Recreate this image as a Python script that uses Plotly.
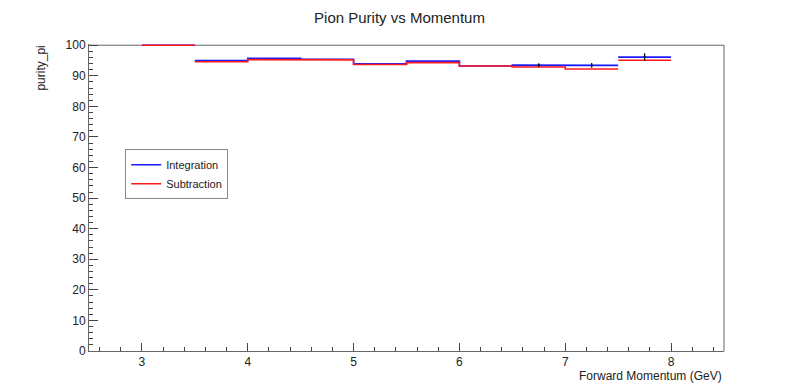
import plotly.graph_objects as go

bin_lo = [3.0, 3.5, 4.0, 4.5, 5.0, 5.5, 6.0, 6.5, 7.0, 7.5]
bin_hi = [3.5, 4.0, 4.5, 5.0, 5.5, 6.0, 6.5, 7.0, 7.5, 8.0]
integration = [100.0, 95.0, 95.7, 95.4, 93.9, 94.8, 93.2, 93.5, 93.4, 96.1]
subtraction = [100.0, 94.6, 95.3, 95.2, 93.7, 94.3, 93.2, 92.9, 92.2, 95.1]
integration_err = [0, 0, 0, 0, 0, 0, 0, 0.6, 0.8, 1.3]
gap_before = [False, True, False, False, False, False, False, False, False, True]

y_ticks = list(range(0, 101, 10))
x_ticks = [3, 4, 5, 6, 7, 8]
x_range = [2.5, 8.5]
y_range = [0, 100.4]
y_frame_top = 100


def step_xy(vals):
    xs, ys = [], []
    for lo, hi, v, g in zip(bin_lo, bin_hi, vals, gap_before):
        if g and xs:
            xs.append(None)
            ys.append(None)
        xs += [lo, hi]
        ys += [v, v]
    return xs, ys


fig = go.Figure()
xi, yi = step_xy(integration)
xs_, ys_ = step_xy(subtraction)
fig.add_trace(go.Scatter(x=xi, y=yi, mode="lines", name="Integration",
                         line=dict(color="#1a1aff", width=1.6)))
fig.add_trace(go.Scatter(x=xs_, y=ys_, mode="lines", name="Subtraction",
                         line=dict(color="#ff1a1a", width=1.6)))

centers = [(lo + hi) / 2 for lo, hi, e in zip(bin_lo, bin_hi, integration_err) if e > 0]
cvals = [v for v, e in zip(integration, integration_err) if e > 0]
cerrs = [e for e in integration_err if e > 0]
fig.add_trace(go.Scatter(x=centers, y=cvals, mode="markers", showlegend=False,
                         marker=dict(size=2, color="black"),
                         error_y=dict(type="data", array=cerrs, color="black",
                                      thickness=1.2, width=0)))

fig.update_layout(
    width=783, height=378,
    paper_bgcolor="white", plot_bgcolor="white",
    margin=dict(l=81, r=67, t=36, b=35, autoexpand=False),
    font=dict(family="Liberation Sans, Arial, sans-serif", size=12, color="#222"),
    title=dict(text="Pion Purity vs Momentum", x=0.5, xanchor="center",
               yref="container", y=0.973, yanchor="middle",
               font=dict(size=15, color="#222")),
    legend=dict(x=0.057, y=0.657, xanchor="left", yanchor="top",
                bgcolor="white", bordercolor="#888", borderwidth=1,
                font=dict(size=11), tracegroupgap=0,
                itemwidth=30),
    showlegend=True,
)
fig.update_xaxes(range=x_range, tickvals=x_ticks, ticktext=[str(t) for t in x_ticks],
                 ticks="inside", ticklen=8, tickcolor="#444", layer="below traces",
                 minor=dict(dtick=0.2, tick0=2.6, ticks="inside", ticklen=4, tickcolor="#444"),
                 showline=True, linecolor="#666", linewidth=1, mirror=False,
                 showgrid=False, zeroline=False, tickfont=dict(size=12))
fig.update_yaxes(range=y_range, tickvals=y_ticks, ticktext=[str(t) for t in y_ticks],
                 ticks="inside", ticklen=9, tickcolor="#444", layer="below traces",
                 minor=dict(dtick=2, ticks="inside", ticklen=4, tickcolor="#444"),
                 showline=True, linecolor="#666", linewidth=1, mirror=False,
                 showgrid=False, zeroline=False, tickfont=dict(size=12))

# frame top and right (drawn beneath the data)
fig.add_shape(type="line", xref="paper", yref="y", x0=0, x1=1,
              y0=y_frame_top, y1=y_frame_top, layer="below",
              line=dict(color="#666", width=1))
fig.add_shape(type="line", xref="paper", yref="y", x0=1, x1=1,
              y0=0, y1=y_frame_top, layer="below",
              line=dict(color="#666", width=1))

fig.add_annotation(text="Forward Momentum (GeV)", xref="paper", yref="paper",
                   x=1.0, y=-0.08, xanchor="right", yanchor="middle", showarrow=False,
                   font=dict(size=12))
fig.add_annotation(text="purity_pi", xref="paper", yref="paper",
                   x=-0.077, y=1.0, xanchor="center", yanchor="top", textangle=-90,
                   showarrow=False, font=dict(size=12))

fig.write_html("out.html")
